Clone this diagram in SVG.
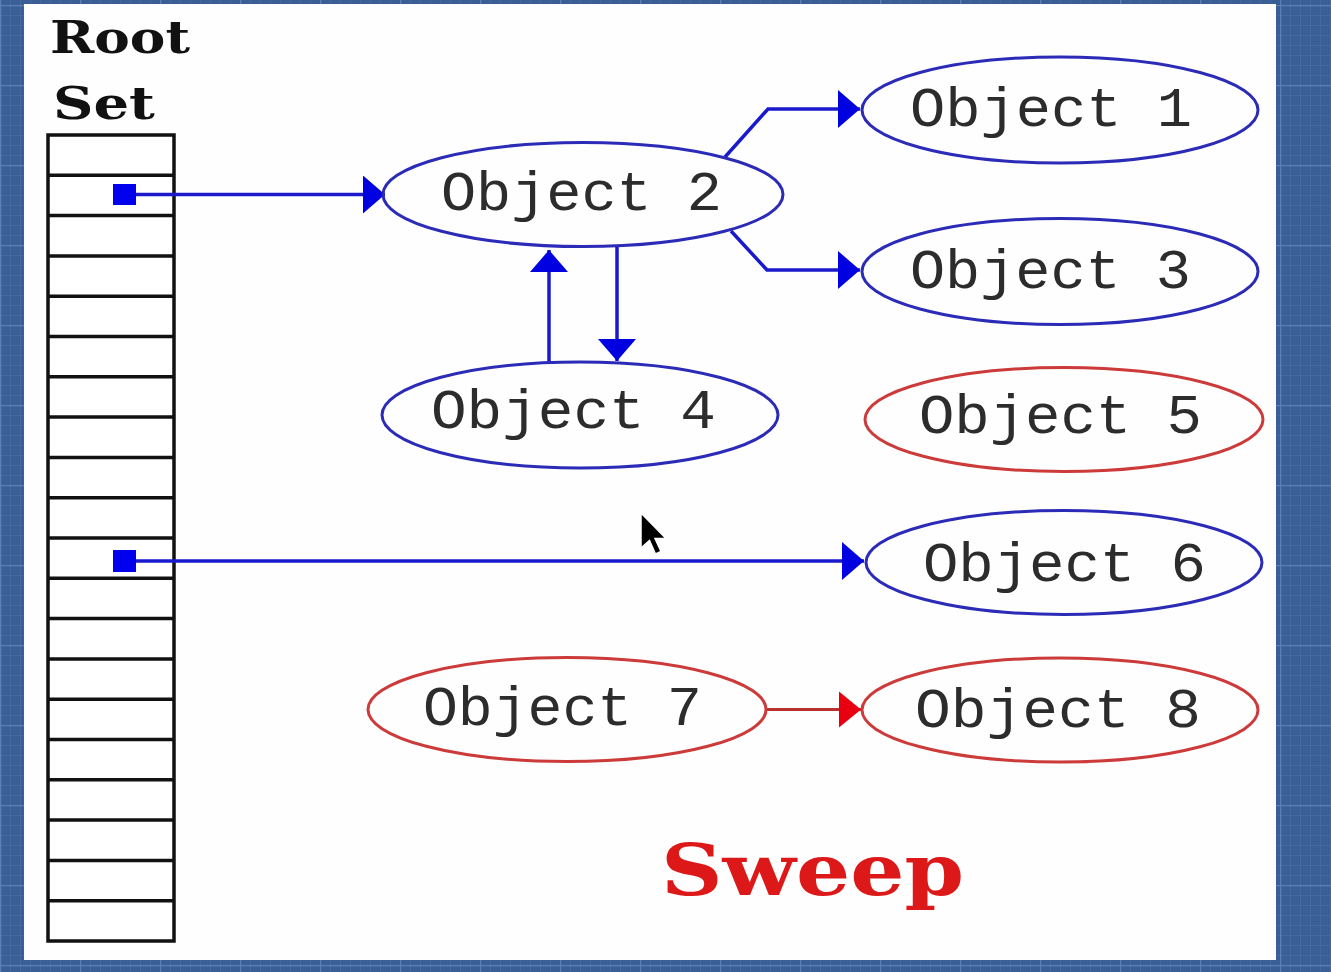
<svg xmlns="http://www.w3.org/2000/svg" width="1331" height="972" viewBox="0 0 1331 972">
<defs>
<pattern id="fine" width="10" height="10" patternUnits="userSpaceOnUse" x="0" y="5">
<rect width="10" height="10" fill="#3a5f97"/>
<path d="M0 0.5H10M0.5 0V10" stroke="#4a70a8" stroke-width="1" opacity="0.6"/>
</pattern>
<pattern id="major" width="80" height="80" patternUnits="userSpaceOnUse" x="0" y="5">
<path d="M0 0.5H80M0.5 0V80" stroke="#5a80b6" stroke-width="1.5"/>
</pattern>
<marker id="ab" markerUnits="userSpaceOnUse" markerWidth="24" markerHeight="40" refX="22" refY="19" orient="auto">
<path d="M0 0L22 19L0 38z" fill="#0000e0"/>
</marker>
<marker id="ar" markerUnits="userSpaceOnUse" markerWidth="24" markerHeight="40" refX="22" refY="19" orient="auto">
<path d="M0 1L22 19L0 37z" fill="#e80010"/>
</marker>
<style>
.obj{font-family:"Liberation Mono","Courier New",monospace;font-size:55px;fill:#2c2c2c}
.eb{fill:none;stroke:#2b2bb8;stroke-width:3}
.er{fill:none;stroke:#cc3a3a;stroke-width:3}
.cb{fill:none;stroke:#1a1acc;stroke-width:3.5}
.cr{fill:none;stroke:#b83030;stroke-width:3}
.row{stroke:#111;stroke-width:3.5}
.title{font-family:"DejaVu Serif","Liberation Serif",serif;font-weight:bold;font-size:45px;fill:#111}
</style>
</defs>
<rect width="1331" height="972" fill="url(#fine)"/>
<rect width="1331" height="972" fill="url(#major)"/>
<rect x="24" y="4" width="1252" height="956" fill="#fefefe"/>

<g id="rootset">
<text class="title" x="50" y="53" textLength="140" lengthAdjust="spacingAndGlyphs">Root</text>
<text class="title" x="53" y="119" textLength="102" lengthAdjust="spacingAndGlyphs">Set</text>
<rect x="48" y="135" width="126" height="806" fill="#fff" stroke="#111" stroke-width="3.5"/>
<g class="row">
<line x1="48" x2="174" y1="175.3" y2="175.3"/>
<line x1="48" x2="174" y1="215.6" y2="215.6"/>
<line x1="48" x2="174" y1="255.9" y2="255.9"/>
<line x1="48" x2="174" y1="296.2" y2="296.2"/>
<line x1="48" x2="174" y1="336.5" y2="336.5"/>
<line x1="48" x2="174" y1="376.8" y2="376.8"/>
<line x1="48" x2="174" y1="417.1" y2="417.1"/>
<line x1="48" x2="174" y1="457.4" y2="457.4"/>
<line x1="48" x2="174" y1="497.7" y2="497.7"/>
<line x1="48" x2="174" y1="538" y2="538"/>
<line x1="48" x2="174" y1="578.3" y2="578.3"/>
<line x1="48" x2="174" y1="618.6" y2="618.6"/>
<line x1="48" x2="174" y1="658.9" y2="658.9"/>
<line x1="48" x2="174" y1="699.2" y2="699.2"/>
<line x1="48" x2="174" y1="739.5" y2="739.5"/>
<line x1="48" x2="174" y1="779.8" y2="779.8"/>
<line x1="48" x2="174" y1="820.1" y2="820.1"/>
<line x1="48" x2="174" y1="860.4" y2="860.4"/>
<line x1="48" x2="174" y1="900.7" y2="900.7"/>
</g>
<rect x="113" y="184" width="23" height="21" fill="#0000ee"/>
<rect x="113" y="550" width="23" height="22" fill="#0000ee"/>
</g>

<g id="connectors">
<path class="cb" d="M136 194.5H385" marker-end="url(#ab)"/>
<path class="cb" d="M725 157L768 109H860" marker-end="url(#ab)"/>
<path class="cb" d="M731 231L767 270H860" marker-end="url(#ab)"/>
<path class="cb" d="M549 363V250" marker-end="url(#ab)"/>
<path class="cb" d="M617 247V361" marker-end="url(#ab)"/>
<path class="cb" d="M136 561H864" marker-end="url(#ab)"/>
<path class="cr" d="M766 709.5H861" marker-end="url(#ar)"/>
</g>

<g id="obj1"><ellipse class="eb" cx="1060" cy="110" rx="198" ry="53"/><text class="obj" x="910" y="126" textLength="282" lengthAdjust="spacingAndGlyphs">Object 1</text></g>
<g id="obj2"><ellipse class="eb" cx="583" cy="194.5" rx="200" ry="52"/><text class="obj" x="441" y="210" textLength="281" lengthAdjust="spacingAndGlyphs">Object 2</text></g>
<g id="obj3"><ellipse class="eb" cx="1060" cy="271.5" rx="198" ry="53"/><text class="obj" x="910" y="288" textLength="281" lengthAdjust="spacingAndGlyphs">Object 3</text></g>
<g id="obj4"><ellipse class="eb" cx="580" cy="415" rx="198" ry="53"/><text class="obj" x="431" y="428" textLength="285" lengthAdjust="spacingAndGlyphs">Object 4</text></g>
<g id="obj5"><ellipse class="er" cx="1064" cy="419.5" rx="199" ry="52"/><text class="obj" x="919" y="433" textLength="283" lengthAdjust="spacingAndGlyphs">Object 5</text></g>
<g id="obj6"><ellipse class="eb" cx="1064" cy="562.5" rx="198" ry="52"/><text class="obj" x="923" y="581" textLength="283" lengthAdjust="spacingAndGlyphs">Object 6</text></g>
<g id="obj7"><ellipse class="er" cx="567" cy="709.5" rx="199" ry="52"/><text class="obj" x="423" y="725" textLength="279" lengthAdjust="spacingAndGlyphs">Object 7</text></g>
<g id="obj8"><ellipse class="er" cx="1060" cy="710" rx="198" ry="52"/><text class="obj" x="915" y="727" textLength="286" lengthAdjust="spacingAndGlyphs">Object 8</text></g>

<text x="661" y="895" font-family="DejaVu Serif,'Liberation Serif',serif" font-weight="bold" font-size="71" fill="#dd1818" textLength="303" lengthAdjust="spacingAndGlyphs">Sweep</text>

<path d="M641 513V548L649.5 540.5L655.5 554L661 551.5L655 538.5H666Z" fill="#000" stroke="#fff" stroke-width="1.5"/>
</svg>
